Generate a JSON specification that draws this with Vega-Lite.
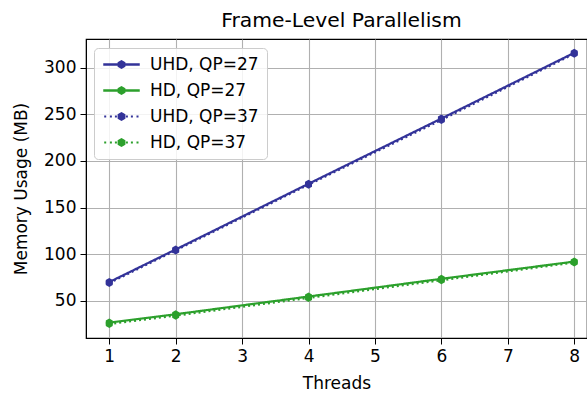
{
  "$schema": "https://vega.github.io/schema/vega-lite/v6.json",
  "autosize": "none",
  "width": 501,
  "height": 299,
  "padding": {"left": 86, "top": 39, "right": 0, "bottom": 55},
  "background": "white",
  "title": {"text": "Frame-Level Parallelism", "font": "DejaVu Sans", "fontSize": 20.3, "fontWeight": "normal", "color": "black", "offset": 8, "dx": 5},
  "config": {
    "view": {"stroke": "black", "strokeWidth": 1.2},
    "axis": {
      "labelFont": "DejaVu Sans", "labelFontSize": 17, "labelColor": "black",
      "titleFont": "DejaVu Sans", "titleFontSize": 17, "titleFontWeight": "normal", "titleColor": "black",
      "domainColor": "black", "tickColor": "black", "tickSize": 6, "tickWidth": 1,
      "gridColor": "#b0b0b0", "gridWidth": 1.1, "labelPadding": 4
    },
    "legend": {
      "orient": "none", "legendX": 8, "legendY": 9,
      "padding": 8, "cornerRadius": 4, "strokeColor": "#cccccc", "fillColor": "rgba(255,255,255,0.85)",
      "labelFont": "DejaVu Sans", "labelFontSize": 17, "labelColor": "black",
      "symbolSize": 100, "symbolOffset": 11, "labelOffset": 20, "rowPadding": 8,
      "symbolStrokeWidth": 0
    }
  },
  "data": {"values": [
    {"threads": 1, "mem": 70, "series": "UHD, QP=27"},
    {"threads": 2, "mem": 105, "series": "UHD, QP=27"},
    {"threads": 4, "mem": 175.5, "series": "UHD, QP=27"},
    {"threads": 6, "mem": 245.5, "series": "UHD, QP=27"},
    {"threads": 8, "mem": 316, "series": "UHD, QP=27"},
    {"threads": 1, "mem": 26.5, "series": "HD, QP=27"},
    {"threads": 2, "mem": 35.5, "series": "HD, QP=27"},
    {"threads": 4, "mem": 54.5, "series": "HD, QP=27"},
    {"threads": 6, "mem": 73.5, "series": "HD, QP=27"},
    {"threads": 8, "mem": 92, "series": "HD, QP=27"},
    {"threads": 1, "mem": 69, "series": "UHD, QP=37"},
    {"threads": 2, "mem": 104, "series": "UHD, QP=37"},
    {"threads": 4, "mem": 174.5, "series": "UHD, QP=37"},
    {"threads": 6, "mem": 244, "series": "UHD, QP=37"},
    {"threads": 8, "mem": 315, "series": "UHD, QP=37"},
    {"threads": 1, "mem": 25, "series": "HD, QP=37"},
    {"threads": 2, "mem": 34, "series": "HD, QP=37"},
    {"threads": 4, "mem": 53, "series": "HD, QP=37"},
    {"threads": 6, "mem": 72, "series": "HD, QP=37"},
    {"threads": 8, "mem": 91, "series": "HD, QP=37"}
  ]},
  "encoding": {
    "x": {"field": "threads", "type": "quantitative", "scale": {"domain": [0.65, 8.192], "nice": false, "zero": false},
      "axis": {"title": "Threads", "values": [1,2,3,4,5,6,7,8], "format": "d", "titlePadding": 11}},
    "y": {"field": "mem", "type": "quantitative", "scale": {"domain": [10, 330.8], "nice": false, "zero": false},
      "axis": {"title": "Memory Usage (MB)", "values": [50,100,150,200,250,300], "titlePadding": 13}}
  },
  "layer": [
    {
      "transform": [{"filter": "datum.mem < 0"}],
      "mark": {"type": "point", "filled": true, "opacity": 1, "size": 100},
      "encoding": {
        "shape": {"field": "series", "type": "nominal",
          "scale": {"domain": ["UHD, QP=27", "HD, QP=27", "UHD, QP=37", "HD, QP=37"],
            "range": [
              "M-3.65,-0.23H3.65V0.23H-3.65Z M0,-0.9L0.78,-0.45L0.78,0.45L0,0.9L-0.78,0.45L-0.78,-0.45Z",
              "M-3.65,-0.23H3.65V0.23H-3.65Z M0,-0.9L0.78,-0.45L0.78,0.45L0,0.9L-0.78,0.45L-0.78,-0.45Z",
              "M-3.46,-0.2H-3.06V0.2H-3.46Z M-2.32,-0.2H-1.92V0.2H-2.32Z M-1.32,-0.2H-0.92V0.2H-1.32Z M0.88,-0.2H1.28V0.2H0.88Z M1.88,-0.2H2.28V0.2H1.88Z M3.0,-0.2H3.4V0.2H3.0Z M0,-0.9L0.78,-0.45L0.78,0.45L0,0.9L-0.78,0.45L-0.78,-0.45Z",
              "M-3.46,-0.2H-3.06V0.2H-3.46Z M-2.32,-0.2H-1.92V0.2H-2.32Z M-1.32,-0.2H-0.92V0.2H-1.32Z M0.88,-0.2H1.28V0.2H0.88Z M1.88,-0.2H2.28V0.2H1.88Z M3.0,-0.2H3.4V0.2H3.0Z M0,-0.9L0.78,-0.45L0.78,0.45L0,0.9L-0.78,0.45L-0.78,-0.45Z"
            ]},
          "legend": {"title": null}},
        "color": {"field": "series", "type": "nominal",
          "scale": {"domain": ["UHD, QP=27", "HD, QP=27", "UHD, QP=37", "HD, QP=37"], "range": ["#333399", "#2ca02c", "#333399", "#2ca02c"]},
          "legend": {
            "title": null,
            "encode": {
              "symbols": {
                "fill": {"value": {"expr": "scale('color', datum.value)"}},
                "strokeWidth": {"value": 0},
                "opacity": {"value": 1}
              }
            }
          }
        }
      }
    },
    {
      "mark": {"type": "point", "filled": true, "opacity": 1, "size": 64,
        "shape": "M0,-1L0.866,-0.5L0.866,0.5L0,1L-0.866,0.5L-0.866,-0.5Z"},
      "encoding": {
        "color": {"field": "series", "type": "nominal",
          "scale": {"domain": ["UHD, QP=27", "HD, QP=27", "UHD, QP=37", "HD, QP=37"], "range": ["#333399", "#2ca02c", "#333399", "#2ca02c"]}}
      }
    },
    {
      "mark": {"type": "line", "strokeWidth": 2.2},
      "encoding": {
        "color": {"field": "series", "type": "nominal",
          "scale": {"domain": ["UHD, QP=27", "HD, QP=27", "UHD, QP=37", "HD, QP=37"], "range": ["#333399", "#2ca02c", "#333399", "#2ca02c"]}},
        "strokeDash": {"field": "series", "type": "nominal",
          "scale": {"domain": ["UHD, QP=27", "HD, QP=27", "UHD, QP=37", "HD, QP=37"], "range": [[1, 0], [1, 0], [2, 3], [2, 3]]},
          "legend": null}
      }
    }
  ]
}
